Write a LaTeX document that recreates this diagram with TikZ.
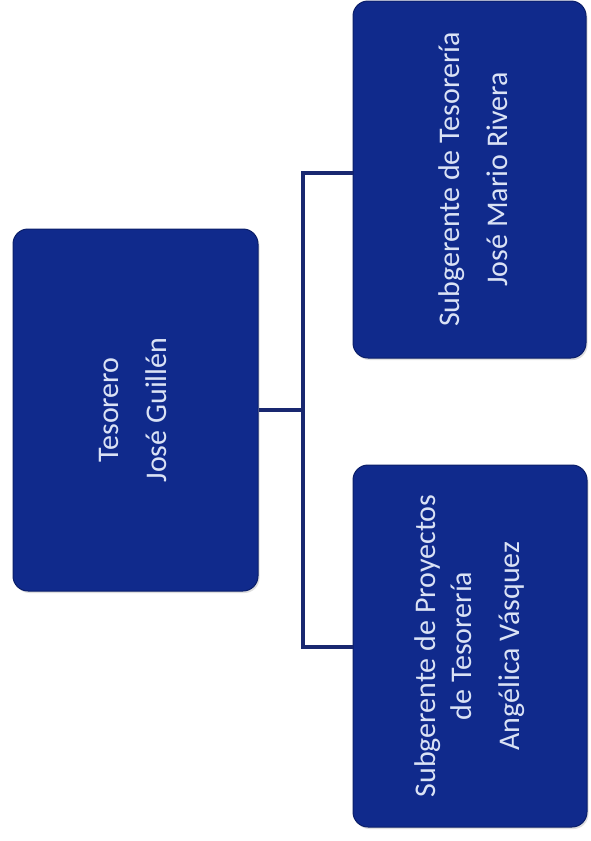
\documentclass[tikz,border=0pt]{standalone}
\usepackage{fontspec}
\setmainfont{Carlito}
\usepackage{graphicx}
\usetikzlibrary{shadows}
\definecolor{boxblue}{RGB}{16,42,140}
\definecolor{boxedge}{RGB}{10,30,105}
\definecolor{linknavy}{RGB}{25,40,112}
\definecolor{labeltext}{RGB}{218,226,245}
\tikzset{
  orgbox/.style={rounded corners=15pt, fill=boxblue, draw=boxedge, line width=1pt,
    text=labeltext, font=\fontsize{30}{36}\selectfont, align=center, inner sep=0pt,
    drop shadow={shadow xshift=1.5pt, shadow yshift=-2pt, opacity=0.25}},
  link/.style={draw=linknavy, line width=3.8pt}
}
% text set bottom-to-top; optional argument nudges it sideways on the page
\newcommand{\uplabel}[2][0pt]{\rotatebox{90}{\raisebox{-#1}[\height][\depth]{\begin{tabular}{c}#2\end{tabular}}}}
\begin{document}
\begin{tikzpicture}[x=1pt,y=-1pt]
\useasboundingbox[fill=white] (0,0) rectangle (591,841);

% boxes
\node[orgbox, minimum width=245pt, minimum height=362pt] (boss) at (135.5,410)
  {\uplabel{Tesorero\\[12pt]José Guillén}};
\node[orgbox, minimum width=233pt, minimum height=357pt] (sub1) at (469.5,179.5)
  {\uplabel[7pt]{Subgerente de Tesorería\\[12pt]José Mario Rivera}};
\node[orgbox, minimum width=234pt, minimum height=362pt] (sub2) at (470,646)
  {\uplabel{Subgerente de Proyectos\\de Tesorería\\[12pt]Angélica Vásquez}};

% connectors
\coordinate (bus) at (303,410);
\coordinate (busTop) at (303,173);
\coordinate (busBot) at (303,647);
\draw[link] (boss.east) -- (bus);
\draw[link] (sub1.west |- busTop) -- (busTop) -- (busBot) -- (sub2.west |- busBot);
\end{tikzpicture}
\end{document}
